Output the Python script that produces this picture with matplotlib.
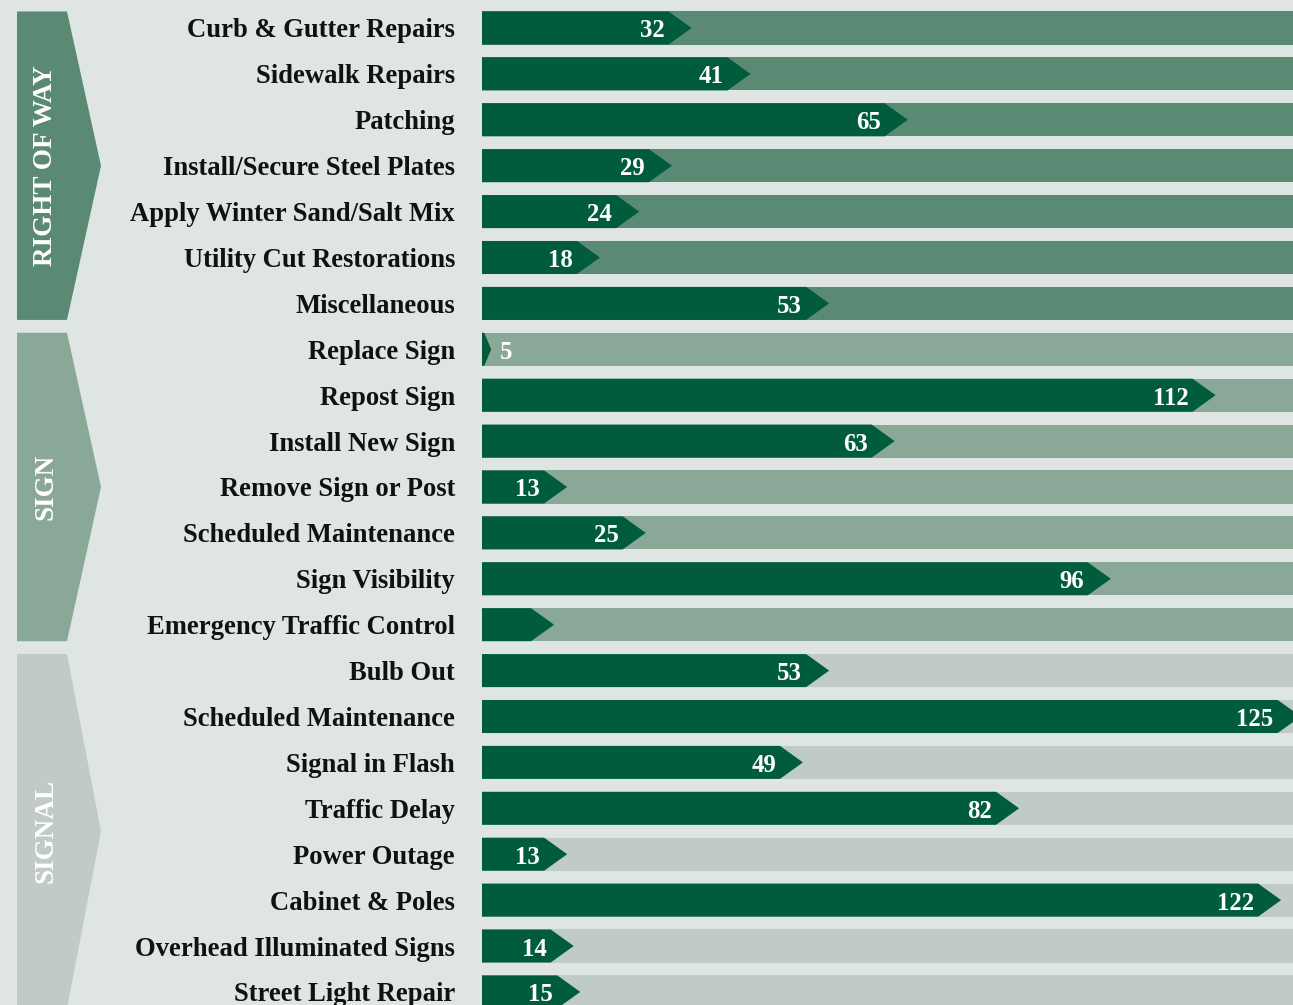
import numpy as np
import matplotlib
matplotlib.use("Agg")
import matplotlib.pyplot as plt
from matplotlib.patches import Polygon

# data
categories = [
    "Curb & Gutter Repairs", "Sidewalk Repairs", "Patching",
    "Install/Secure Steel Plates", "Apply Winter Sand/Salt Mix",
    "Utility Cut Restorations", "Miscellaneous",
    "Replace Sign", "Repost Sign", "Install New Sign", "Remove Sign or Post",
    "Scheduled Maintenance", "Sign Visibility", "Emergency Traffic Control",
    "Bulb Out", "Scheduled Maintenance", "Signal in Flash", "Traffic Delay",
    "Power Outage", "Cabinet & Poles", "Overhead Illuminated Signs",
    "Street Light Repair",
]
# bar lengths as drawn (Replace Sign is drawn much shorter than its label)
values = [32, 41, 65, 29, 24, 18, 53,
          1.4, 112, 63, 13, 25, 96, 11,
          53, 125, 49, 82, 13, 122, 14, 15]
labels = ["32", "41", "65", "29", "24", "18", "53",
          "5", "112", "63", "13", "25", "96", "",
          "53", "125", "49", "82", "13", "122", "14", "15"]
groups = ["RIGHT OF WAY", "SIGN", "SIGNAL"]
group_sizes = [7, 7, 8]

BG = "#dfe5e2"
DARK = "#005c3c"
group_colors = ["#5b8a74", "#8aa898", "#bfcbc4"]

W, H, DPI = 1293, 1005, 100
PX = 6.55            # pixels per unit
X0 = 482             # pixel of value 0
ROW0, PITCH = 28, 45.9
BAR_H = 0.72

def px_x(p):
    return (p - X0) / PX

fig = plt.figure(figsize=(W / DPI, H / DPI), dpi=DPI, facecolor=BG)
ax = fig.add_axes([0, 0, 1, 1])
ax.set_facecolor(BG)
ax.set_xlim(px_x(0), px_x(W))
ax.set_ylim((H - ROW0) / PITCH, -ROW0 / PITCH)
ax.axis("off")

serif = ["Liberation Serif", "DejaVu Serif"]

row_group = np.repeat(np.arange(len(groups)), group_sizes)
xmax = px_x(W) + 5
arrow_w = 23 / PX
dy = 3 / PITCH       # text sits a little low in the bars

for i, (cat, v, lab) in enumerate(zip(categories, values, labels)):
    top, bot = i - BAR_H / 2, i + BAR_H / 2
    # background track
    ax.add_patch(plt.Rectangle((0, top), xmax, BAR_H,
                               color=group_colors[row_group[i]], lw=0))
    aw = min(arrow_w, 0.75 * v)
    flat = v - aw
    ax.add_patch(Polygon([(0, top), (flat, top), (v, i), (flat, bot), (0, bot)],
                         closed=True, color=DARK, lw=0))
    ax.text(px_x(455), i + dy, cat, ha="right", va="center", fontsize=19.2,
            fontweight="bold", family=serif, color="#111111")
    if lab:
        if v > 8:
            ax.text(flat - 4 / PX, i + dy, lab, ha="right", va="center",
                    fontsize=17.8, fontweight="bold", family=serif, color="white")
        else:
            ax.text(v + 9 / PX, i + dy, lab, ha="left", va="center",
                    fontsize=17.8, fontweight="bold", family=serif, color="white")

# group chevrons on the left
xl, xf, xt = px_x(17), px_x(67), px_x(101)
start = 0
for g, n in enumerate(group_sizes):
    top = start - BAR_H / 2
    bot = start + n - 1 + BAR_H / 2
    mid = (top + bot) / 2
    ax.add_patch(Polygon([(xl, top), (xf, top), (xt, mid), (xf, bot), (xl, bot)],
                         closed=True, color=group_colors[g], lw=0))
    ax.text(px_x(46), mid, groups[g], rotation=90, ha="center",
            va="center", fontsize=19.5, fontweight="bold", family=serif,
            color="white")
    start += n

fig.savefig("out.png", dpi=DPI, facecolor=BG)
